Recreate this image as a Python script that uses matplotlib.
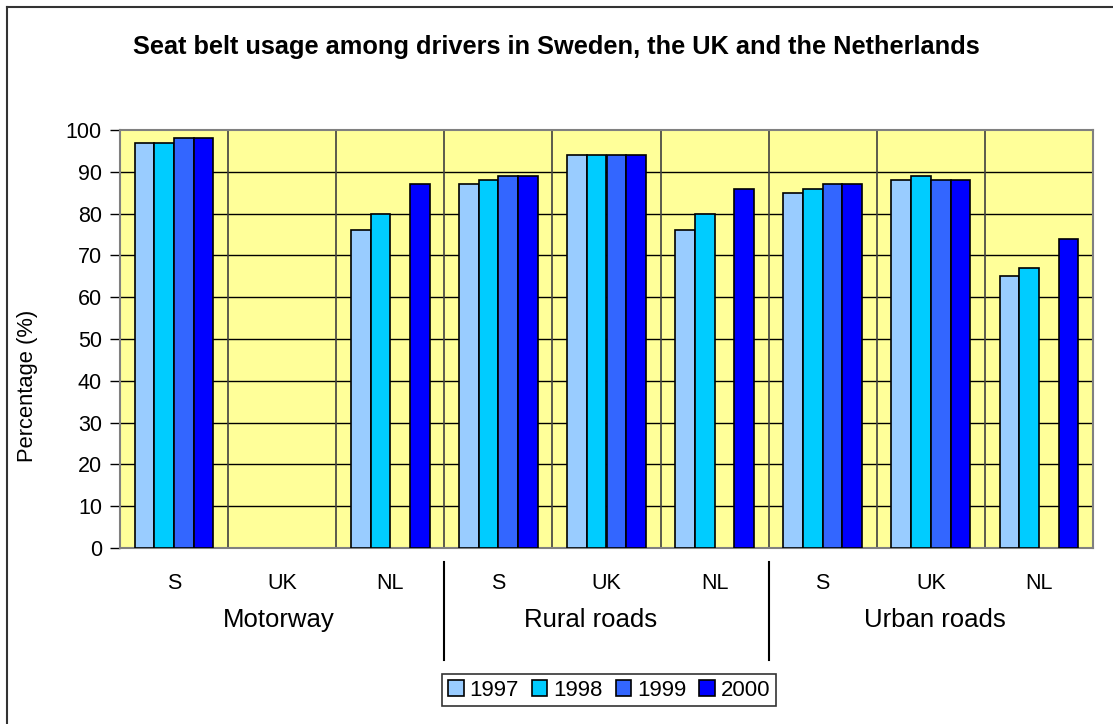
import numpy as np
import matplotlib
matplotlib.use("Agg")
import matplotlib.pyplot as plt
from matplotlib.lines import Line2D
from matplotlib.patches import Patch

plt.rcParams['font.family'] = ['Liberation Sans', 'DejaVu Sans']

title = "Seat belt usage among drivers in Sweden, the UK and the Netherlands"
groups = ["Motorway", "Rural roads", "Urban roads"]
countries = ["S", "UK", "NL"]
years = ["1997", "1998", "1999", "2000"]
colors = ["#99CCFF", "#00CCFF", "#3366FF", "#0000FF"]

nan = np.nan
# rows: Motorway S, UK, NL, Rural S, UK, NL, Urban S, UK, NL
v1997 = [97, nan, 76, 87, 94, 76, 85, 88, 65]
v1998 = [97, nan, 80, 88, 94, 80, 86, 89, 67]
v1999 = [98, nan, nan, 89, 94, nan, 87, 88, nan]
v2000 = [98, nan, 87, 89, 94, 86, 87, 88, 74]
series = [v1997, v1998, v1999, v2000]

W, H = 1113, 724
fig = plt.figure(figsize=(W / 100, H / 100), dpi=100)
ax = fig.add_axes([120 / W, 1 - 548 / H, (1093 - 120) / W, (548 - 130) / H])
ax.set_facecolor("#FFFF99")

n = len(groups) * len(countries)
x = np.arange(n)
bw = 0.182
for k, (vals, c) in enumerate(zip(series, colors)):
    vals = np.array(vals, dtype=float)
    m = ~np.isnan(vals)
    ax.bar(x[m] + (k - 1.5) * bw, vals[m], width=bw, color=c,
           edgecolor="black", linewidth=1.2, zorder=3)

ax.set_xlim(-0.5, n - 0.5)
ax.set_ylim(0, 100)
ax.set_yticks(np.arange(0, 101, 10))
ax.tick_params(axis='y', labelsize=15.5, length=7, width=1, direction='out', pad=6)
ax.set_xticks([])
for yv in range(10, 100, 10):
    ax.axhline(yv, color="black", lw=1, zorder=1)
for xv in np.arange(0.5, n - 0.5, 1):
    ax.axvline(xv, color="#404040", lw=1.2, zorder=1)
for s in ax.spines.values():
    s.set_color("#808080")
    s.set_linewidth(1.5)

ax.set_ylabel("Percentage (%)", fontsize=15.8)
ax.yaxis.set_label_coords(-0.084, 0.388)

# category labels
for i in range(n):
    ax.text(i, -8.5, countries[i % 3], ha='center', va='center', fontsize=15.5,
            clip_on=False)
group_pos = [0.966, 3.85, 7.04]
for g, name in enumerate(groups):
    ax.text(group_pos[g], -17.3, name, ha='center', va='center', fontsize=18.5,
            clip_on=False)
for b in [2.5, 5.5]:
    ax.add_line(Line2D([b, b], [-3.3, -26.8], color="black", lw=1.5,
                       clip_on=False))

fig.text(0.5, 1 - 47 / H, title, ha='center', va='center', fontsize=18.3,
         fontweight='bold')

handles = [Patch(facecolor=c, edgecolor="black", linewidth=1.2) for c in colors]
leg = fig.legend(handles, years, loc='center', bbox_to_anchor=(609 / W, 1 - 690 / H),
                 ncol=4, fontsize=16, frameon=True, fancybox=False,
                 handlelength=0.7, handleheight=0.7, handletextpad=0.25,
                 columnspacing=0.6, borderpad=0.25, borderaxespad=0)
leg.get_frame().set_edgecolor("black")
leg.get_frame().set_linewidth(1.2)

# outer border (top and left visible)
fig.add_artist(Line2D([7 / W, 1], [1 - 7 / H, 1 - 7 / H], color="#333333", lw=1.5,
                      transform=fig.transFigure))
fig.add_artist(Line2D([7 / W, 7 / W], [0, 1 - 7 / H], color="#333333", lw=1.5,
                      transform=fig.transFigure))

fig.savefig("out.png", dpi=100, facecolor="white")
